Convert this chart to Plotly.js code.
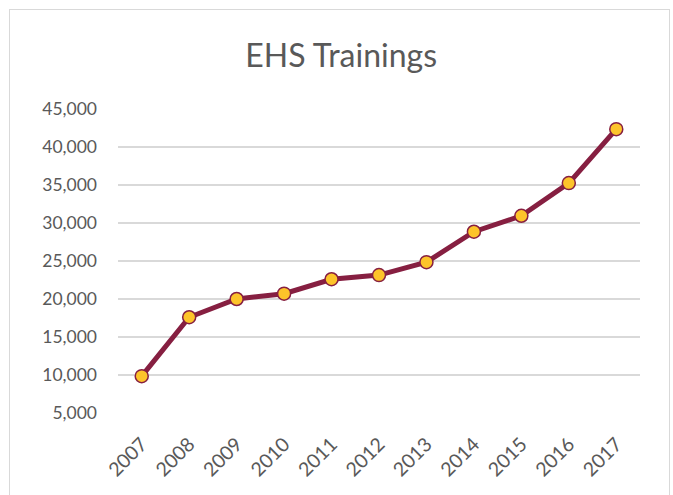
<!DOCTYPE html>
<html><head><meta charset="utf-8">
<script src="https://cdn.plot.ly/plotly-3.0.1.min.js"></script>
<style>
body{margin:0;background:#fff;}
#frame{position:absolute;left:9px;top:9px;width:659px;height:500px;border:1px solid #d9d9d9;pointer-events:none;z-index:5;}
#chart{position:absolute;left:0;top:0;width:673px;height:495px;}
</style></head>
<body>
<div id="chart"></div><div id="frame"></div>
<script>
const years = ['2007','2008','2009','2010','2011','2012','2013','2014','2015','2016','2017'];
const trainings = [9850, 17600, 20000, 20700, 22600, 23150, 24850, 28850, 30950, 35250, 42350];
const yTicks = [5000,10000,15000,20000,25000,30000,35000,40000,45000];

Plotly.newPlot('chart', [{
  x: years, y: trainings, type: 'scatter', mode: 'lines+markers',
  line: {color: '#861F41', width: 5},
  marker: {color: '#FDC42A', size: 13, line: {color: '#861F41', width: 1.5}}
}], {
  width: 673, height: 495,
  margin: {l: 118, r: 33, t: 109, b: 82},
  paper_bgcolor: '#fff', plot_bgcolor: '#fff',
  font: {family: 'Lato, "Open Sans", sans-serif', color: '#595959'},
  title: {text: 'EHS Trainings', font: {size: 32, color: '#595959', family: 'Lato, sans-serif'}, x: 0.507, xanchor: 'center', y: 0.888, yanchor: 'middle'},
  xaxis: {type: 'category', range: [-0.5, 10.5], showgrid: false, showline: false, zeroline: false,
          tickangle: -45, tickfont: {size: 19.5, color: '#595959'}, ticks: '', ticklabelstandoff: 15, fixedrange: true},
  yaxis: {range: [5000, 45000], tickvals: yTicks, tickformat: ',', showgrid: true, gridcolor: '#d9d9d9', gridwidth: 1.5,
          zeroline: false, showline: false, ticks: '', ticklabelstandoff: 20, tickfont: {size: 17.5, color: '#595959'}, fixedrange: true},
  showlegend: false
}, {displayModeBar: false, staticPlot: true});
</script>
</body></html>
